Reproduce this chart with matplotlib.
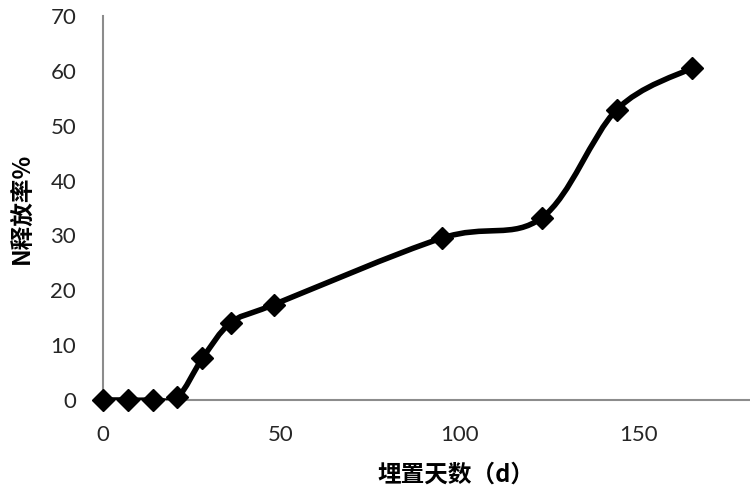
import matplotlib
matplotlib.use('Agg')
import matplotlib.pyplot as plt
from matplotlib.path import Path
from matplotlib.patches import PathPatch

plt.rcParams['font.family'] = ['Lato', 'Noto Sans CJK SC', 'DejaVu Sans']

# burial days and N release rate (%)
days    = [0, 7, 14, 21, 28, 36, 48, 95, 123, 144, 165]
release = [0, 0, 0, 0.5, 7.6, 14.1, 17.4, 29.5, 33.2, 52.9, 60.5]

x_ticks = [0, 50, 100, 150]
y_ticks = [0, 10, 20, 30, 40, 50, 60, 70]


def smooth_path(xs, ys, t=1/6):
    # excel style smoothed line: cubic bezier through every point
    pts = list(zip(xs, ys))
    n = len(pts)
    verts = [pts[0]]
    codes = [Path.MOVETO]
    for i in range(n - 1):
        p0 = pts[i - 1] if i > 0 else pts[i]
        p1 = pts[i]
        p2 = pts[i + 1]
        p3 = pts[i + 2] if i + 2 < n else pts[i + 1]
        c1 = (p1[0] + (p2[0] - p0[0]) * t, p1[1] + (p2[1] - p0[1]) * t)
        c2 = (p2[0] - (p3[0] - p1[0]) * t, p2[1] - (p3[1] - p1[1]) * t)
        verts += [c1, c2, p2]
        codes += [Path.CURVE4] * 3
    return Path(verts, codes)


fig = plt.figure(figsize=(7.5, 5), dpi=100)
ax = fig.add_axes([0.1367, 0.2, 0.952, 0.768])

ax.add_patch(PathPatch(smooth_path(days, release), facecolor='none',
                       edgecolor='black', linewidth=4, capstyle='round',
                       joinstyle='round', zorder=3))
ax.plot(days, release, linestyle='none', marker='D', markersize=11,
        color='black', clip_on=False, zorder=4)

ax.set_xlim(0, 200)
ax.set_ylim(0, 70)
ax.set_xticks(x_ticks)
ax.set_yticks(y_ticks)

for side in ['top', 'right']:
    ax.spines[side].set_visible(False)
for side in ['left', 'bottom']:
    ax.spines[side].set_color('#8c8c8c')
    ax.spines[side].set_linewidth(1.5)

ax.tick_params(length=0, labelsize=16, labelcolor='#262626')
ax.tick_params(axis='y', pad=19)
ax.tick_params(axis='x', pad=18)

cjk = ['Noto Sans CJK SC', 'DejaVu Sans']
ax.set_xlabel('埋置天数（d）', fontsize=17, fontweight='bold', family=cjk)
ax.set_ylabel('N释放率%', fontsize=17, fontweight='bold', family=cjk)
ax.xaxis.set_label_coords(0.495, -0.162)
ax.yaxis.set_label_coords(-0.097, 0.5)

fig.savefig('out.png', dpi=100)
